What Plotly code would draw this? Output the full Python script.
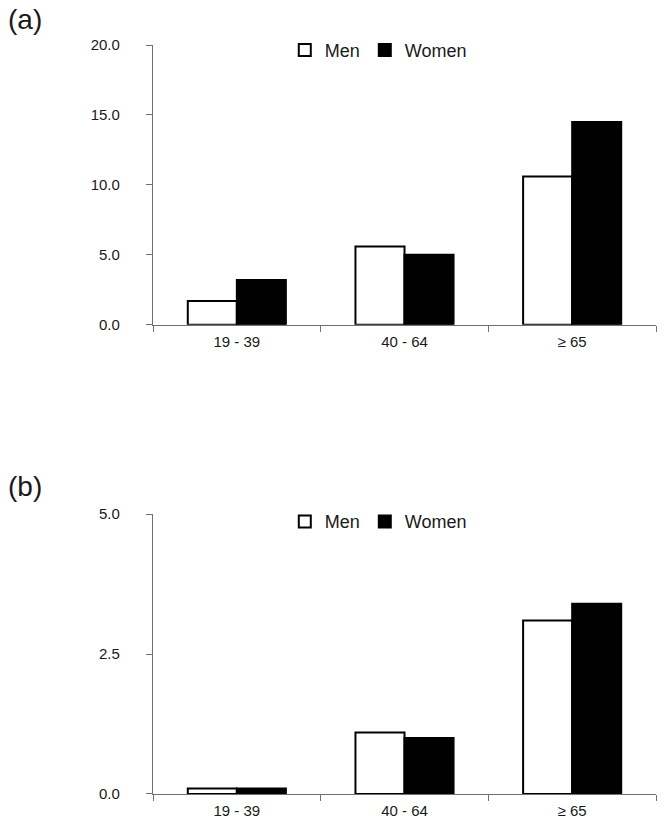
import plotly.graph_objects as go
from plotly.subplots import make_subplots

categories = ["19 - 39", "40 - 64", "≥ 65"]
men_a = [1.7, 5.6, 10.6]
women_a = [3.2, 5.0, 14.5]
men_b = [0.1, 1.1, 3.1]
women_b = [0.1, 1.0, 3.4]
yticks_a = [0, 5, 10, 15, 20]
yticks_b = [0, 2.5, 5]

FONT = "Liberation Sans, Arial, sans-serif"
AXIS_COLOR = "#707070"
TEXT_COLOR = "#1a1a1a"

fig = make_subplots(rows=2, cols=1, vertical_spacing=0.05)

fig.add_trace(go.Bar(x=categories, y=men_a, name="Men",
                     marker=dict(color="white", line=dict(color="black", width=2)),
                     legend="legend"), row=1, col=1)
fig.add_trace(go.Bar(x=categories, y=women_a, name="Women",
                     marker=dict(color="black", line=dict(color="black", width=2)),
                     legend="legend"), row=1, col=1)
fig.add_trace(go.Bar(x=categories, y=men_b, name="Men",
                     marker=dict(color="white", line=dict(color="black", width=2)),
                     legend="legend2"), row=2, col=1)
fig.add_trace(go.Bar(x=categories, y=women_b, name="Women",
                     marker=dict(color="black", line=dict(color="black", width=2)),
                     legend="legend2"), row=2, col=1)

xaxis_common = dict(showline=True, linecolor=AXIS_COLOR, linewidth=1.3,
                    ticks="outside", tickson="boundaries", ticklen=6,
                    tickcolor=AXIS_COLOR, tickwidth=1.3,
                    showgrid=False, zeroline=False, ticklabelstandoff=3,
                    tickfont=dict(family=FONT, size=15, color=TEXT_COLOR))
yaxis_common = dict(showline=True, linecolor=AXIS_COLOR, linewidth=1.3,
                    ticks="outside", ticklen=6, tickcolor=AXIS_COLOR, tickwidth=1.3,
                    showgrid=False, zeroline=False, tickformat=".1f",
                    ticklabelstandoff=23,
                    tickfont=dict(family=FONT, size=15, color=TEXT_COLOR))

fig.update_layout(
    width=672, height=831,
    margin=dict(l=153, r=16, t=45, b=33),
    paper_bgcolor="white", plot_bgcolor="white",
    bargap=0.415, bargroupgap=0,
    barmode="group",
    font=dict(family=FONT, size=14, color=TEXT_COLOR),
    xaxis=dict(domain=[0, 1], anchor="y", **xaxis_common),
    yaxis=dict(domain=[0.6265, 1.0], anchor="x", range=[0, 20],
               tickvals=yticks_a, **yaxis_common),
    xaxis2=dict(domain=[0, 1], anchor="y2", **xaxis_common),
    yaxis2=dict(domain=[0.0, 0.3735], anchor="x2", range=[0, 5],
                tickvals=yticks_b, **yaxis_common),
    legend=dict(orientation="h", x=0.262, y=0.993, xanchor="left", yanchor="middle",
                bgcolor="rgba(0,0,0,0)", font=dict(family=FONT, size=18, color=TEXT_COLOR)),
    legend2=dict(orientation="h", x=0.262, y=0.3635, xanchor="left", yanchor="middle",
                 bgcolor="rgba(0,0,0,0)", font=dict(family=FONT, size=18, color=TEXT_COLOR)),
    annotations=[
        dict(text="(a)", xref="paper", yref="paper", x=-0.292, y=1.0346,
             xanchor="left", yanchor="middle", showarrow=False,
             font=dict(family=FONT, size=28, color=TEXT_COLOR)),
        dict(text="(b)", xref="paper", yref="paper", x=-0.292, y=0.41,
             xanchor="left", yanchor="middle", showarrow=False,
             font=dict(family=FONT, size=28, color=TEXT_COLOR)),
    ],
)

fig.write_html("out.html",
               config={"displayModeBar": False},
               post_script="document.body.style.margin='0';")
